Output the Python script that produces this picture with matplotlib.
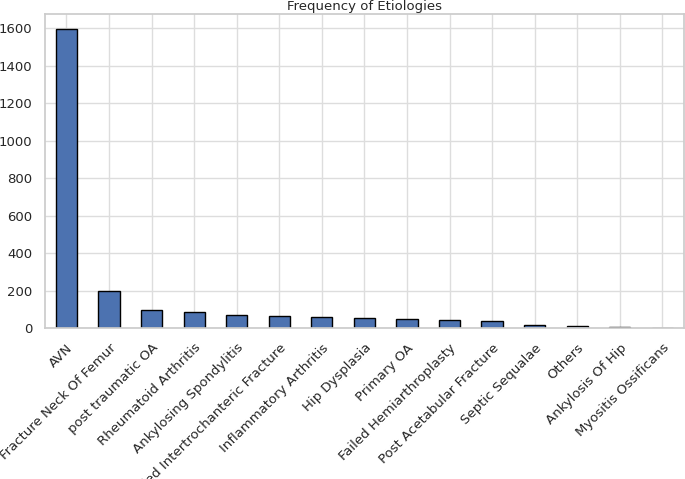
import matplotlib
matplotlib.use("Agg")
import matplotlib.pyplot as plt
import seaborn as sns

categories = ["AVN", "Fracture Neck Of Femur", "post traumatic OA", "Rheumatoid Arthritis",
              "Ankylosing Spondylitis", "Failed Intertrochanteric Fracture", "Inflammatory Arthritis",
              "Hip Dysplasia", "Primary OA", "Failed Hemiarthroplasty", "Post Acetabular Fracture",
              "Septic Sequalae", "Others", "Ankylosis Of Hip", "Myositis Ossificans"]
counts = [1595, 196, 99, 84, 72, 66, 61, 52, 47, 43, 40, 16, 9, 6, 3]

sns.set_theme(style="whitegrid", rc={"grid.color": "#dddddd", "axes.edgecolor": "#cccccc"})
plt.rcParams['font.family'] = ['DejaVu Sans']
fig = plt.figure(figsize=(6.85, 4.79), dpi=100)
ax = fig.add_axes([0.066, 0.315, 0.932, 0.655])
x = range(len(categories))
ax.bar(x, counts, width=0.5, color="#4c72b0", edgecolor="black", linewidth=1)
ax.set_xticks(list(x))
ax.set_xticklabels(categories, rotation=45, ha="right", rotation_mode="anchor", fontsize=9.5)
ax.tick_params(axis="y", labelsize=9.5)
ax.set_xlim(-0.5, len(categories) - 0.5)
ax.set_ylim(0, 1675)
ax.set_title("Frequency of Etiologies", fontsize=9.5, pad=3)
ax.set_xlabel("Etiology", fontsize=10, labelpad=6)
ax.set_ylabel("Count", fontsize=10)
fig.savefig("out.png", dpi=100)
